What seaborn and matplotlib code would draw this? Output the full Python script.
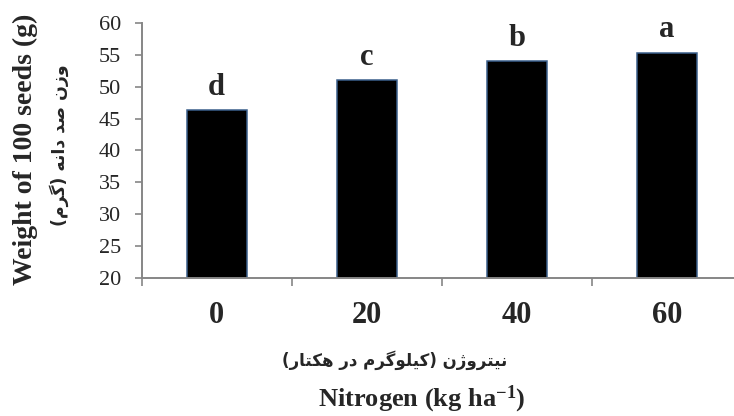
import matplotlib
matplotlib.use("Agg")
import matplotlib.pyplot as plt
import seaborn as sns
import pandas as pd

# Data
nitrogen_levels = ["0", "20", "40", "60"]
seed_weight = [46.3, 51.1, 54.1, 55.4]
group_letters = ["d", "c", "b", "a"]

ylabel_en = "Weight of 100 seeds (g)"
ylabel_fa = "وزن صد دانه (گرم)"
xlabel_fa = "نیتروژن (کیلوگرم در هکتار)"
xlabel_en = r"Nitrogen (kg ha$^{\mathregular{-1}}$)"

# Presentation forms: isolated, final, initial, medial
FORMS = {
    "ا": ("\uFE8D", "\uFE8E", None, None),
    "ت": ("\uFE95", "\uFE96", "\uFE97", "\uFE98"),
    "د": ("\uFEA9", "\uFEAA", None, None),
    "ر": ("\uFEAD", "\uFEAE", None, None),
    "ز": ("\uFEAF", "\uFEB0", None, None),
    "ژ": ("\uFB8A", "\uFB8B", None, None),
    "ص": ("\uFEB9", "\uFEBA", "\uFEBB", "\uFEBC"),
    "ل": ("\uFEDD", "\uFEDE", "\uFEDF", "\uFEE0"),
    "م": ("\uFEE1", "\uFEE2", "\uFEE3", "\uFEE4"),
    "ن": ("\uFEE5", "\uFEE6", "\uFEE7", "\uFEE8"),
    "ه": ("\uFEE9", "\uFEEA", "\uFEEB", "\uFEEC"),
    "و": ("\uFEED", "\uFEEE", None, None),
    "ک": ("\uFB8E", "\uFB8F", "\uFB90", "\uFB91"),
    "گ": ("\uFB92", "\uFB93", "\uFB94", "\uFB95"),
    "ی": ("\uFBFC", "\uFBFD", "\uFBFE", "\uFBFF"),
}


def shape_fa(s):
    # minimal joining + right-to-left ordering, matplotlib does neither
    out = []
    for i, ch in enumerate(s):
        f = FORMS.get(ch)
        if f is None:
            out.append(ch)
            continue
        prev = s[i - 1] if i > 0 else ""
        nxt = s[i + 1] if i + 1 < len(s) else ""
        join_prev = prev in FORMS and FORMS[prev][2] is not None
        join_next = f[2] is not None and nxt in FORMS
        if join_prev and join_next:
            out.append(f[3])
        elif join_prev:
            out.append(f[1])
        elif join_next:
            out.append(f[2])
        else:
            out.append(f[0])
    vis = "".join(reversed(out))
    return vis.translate(str.maketrans("()", ")("))


sns.set_style("white")
plt.rcParams["font.family"] = ["Liberation Serif", "DejaVu Sans"]
plt.rcParams["mathtext.default"] = "regular"

df = pd.DataFrame({"N": nitrogen_levels, "W": seed_weight})

fig = plt.figure(figsize=(7.34, 4.16), dpi=100)
ax = fig.add_axes([0.1931, 0.3325, 0.8174, 0.6115])

sns.barplot(data=df, x="N", y="W", order=nitrogen_levels, color="black",
            saturation=1, edgecolor="#3A5F8B", linewidth=1.1, width=0.4, ax=ax)

ax.set_xlim(-0.5, 3.5)
ax.set_ylim(20, 60)
ax.set_yticks(range(20, 61, 5))
ax.set_xlabel("")
ax.set_ylabel("")

for s in ["top", "right"]:
    ax.spines[s].set_visible(False)
for s in ["left", "bottom"]:
    ax.spines[s].set_color("#868686")
    ax.spines[s].set_linewidth(1.4)

ax.tick_params(axis="y", direction="out", length=5, width=1.2, color="#868686",
               labelsize=16, pad=10, left=True)
ax.set_xticks(range(len(nitrogen_levels)))
ax.set_xticklabels(nitrogen_levels, fontsize=22, fontweight="bold")
ax.tick_params(axis="x", which="major", length=0, pad=17)
ax.set_xticks([-0.5, 0.5, 1.5, 2.5], minor=True)
ax.tick_params(axis="x", which="minor", direction="out", length=6, width=1.2,
               color="#868686", bottom=True)

for i, (v, lab) in enumerate(zip(seed_weight, group_letters)):
    ax.annotate(lab, (i, v), xytext=(0, 11), textcoords="offset points",
                ha="center", va="baseline", fontsize=22, fontweight="bold")

fig.text(0.034, 0.64, ylabel_en, rotation=90, ha="center", va="center",
         fontsize=20, fontweight="bold")
fig.text(0.080, 0.651, shape_fa(ylabel_fa), rotation=90, ha="center", va="center",
         fontsize=12.5, fontweight="bold", family=["DejaVu Sans"])
fig.text(0.537, 0.135, shape_fa(xlabel_fa), ha="center", va="center",
         fontsize=12, fontweight="bold", family=["DejaVu Sans"])
fig.text(0.574, 0.022, xlabel_en, ha="center", va="baseline",
         fontsize=19, fontweight="bold")

fig.savefig("out.png", dpi=100)
